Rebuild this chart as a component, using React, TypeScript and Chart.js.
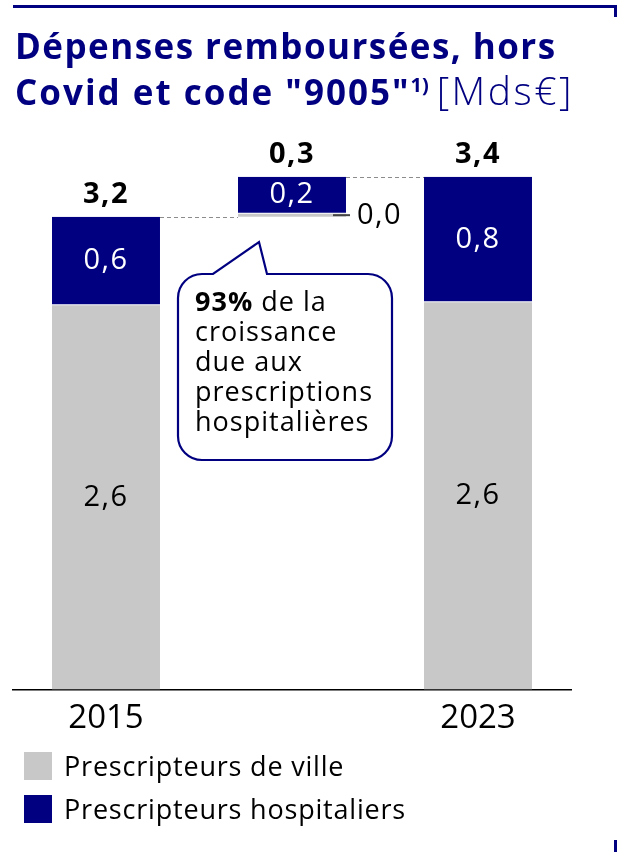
import React, { useEffect, useRef } from "react";
import { Chart, registerables } from "chart.js";
Chart.register(...registerables);

// ---- data ----
const categories = ["2015", "", "2023"];
const barKinds = ["total", "delta", "total"];
const seriesNames = ["Prescripteurs de ville", "Prescripteurs hospitaliers"];
const villeValues = [2.6, 0.02, 2.62];
const hospValues = [0.6, 0.25, 0.85];
const villeLabels = ["2,6", "0,0", "2,6"];
const hospLabels = ["0,6", "0,2", "0,8"];
const totalLabels = ["3,2", "0,3", "3,4"];
const calloutBold = "93%";
const calloutLines = [" de la", "croissance", "due aux", "prescriptions", "hospitalières"];

const NAVY = "#000080";
const GREY = "#c8c8c8";
const FONT = '"Open Sans", sans-serif';

// build floating ranges
const villeRanges: number[][] = [];
const hospRanges: number[][] = [];
let running = 0;
categories.forEach((_, i) => {
  const start = barKinds[i] === "total" ? 0 : running;
  const v1 = start + villeValues[i];
  const v2 = v1 + hospValues[i];
  villeRanges.push([start, v1]);
  hospRanges.push([v1, v2]);
  running = v2;
});

const labelPlugin = {
  id: "wfLabels",
  afterDatasetsDraw(chart: any) {
    const ctx = chart.ctx;
    const ys = chart.scales.y;
    const mv = chart.getDatasetMeta(0);
    const mh = chart.getDatasetMeta(1);
    ctx.save();
    // dashed connectors
    ctx.strokeStyle = "#8c8c8c";
    ctx.lineWidth = 1;
    ctx.setLineDash([4, 3]);
    for (let i = 0; i < categories.length - 1; i++) {
      const a = mh.data[i];
      const b = mh.data[i + 1];
      const py = Math.round(ys.getPixelForValue(hospRanges[i][1])) + 0.5;
      ctx.beginPath();
      ctx.moveTo(a.x + a.width / 2, py);
      ctx.lineTo(b.x - b.width / 2, py);
      ctx.stroke();
    }
    ctx.setLineDash([]);
    try { (ctx as any).letterSpacing = "1.5px"; } catch (e) {}
    for (let i = 0; i < categories.length; i++) {
      const bv = mv.data[i];
      const bh = mh.data[i];
      // hosp label
      ctx.fillStyle = "#ffffff";
      ctx.font = `400 29px ${FONT}`;
      ctx.textAlign = "center";
      ctx.textBaseline = "middle";
      ctx.fillText(hospLabels[i], bh.x, (bh.y + bh.base) / 2);
      // ville label
      ctx.fillStyle = "#000";
      if (barKinds[i] === "total") {
        ctx.fillText(villeLabels[i], bv.x, (bv.y + bv.base) / 2);
      } else {
        const cy = (bv.y + bv.base) / 2;
        const right = bv.x + bv.width / 2;
        ctx.strokeStyle = "#444";
        ctx.lineWidth = 2;
        ctx.beginPath();
        ctx.moveTo(right - 13, cy);
        ctx.lineTo(right + 4, cy);
        ctx.stroke();
        ctx.textAlign = "left";
        ctx.fillText(villeLabels[i], right + 11, cy + 1);
      }
      // total label
      ctx.font = `700 29px ${FONT}`;
      ctx.textAlign = "center";
      ctx.textBaseline = "alphabetic";
      ctx.fillText(totalLabels[i], bh.x, Math.min(bh.y, bh.base) - 14);
    }
    ctx.restore();
  },
};

function App() {
  const ref = useRef<HTMLCanvasElement | null>(null);
  useEffect(() => {
    document.body.style.margin = "0";
    const chart = new Chart(ref.current as HTMLCanvasElement, {
      type: "bar",
      data: {
        labels: categories,
        datasets: [
          {
            label: seriesNames[0],
            data: villeRanges as any,
            backgroundColor: GREY,
            borderWidth: 0,
            categoryPercentage: 1,
            barPercentage: 0.5806,
          },
          {
            label: seriesNames[1],
            data: hospRanges as any,
            backgroundColor: NAVY,
            borderColor: "#ffffff",
            borderWidth: { top: 0, left: 0, right: 0, bottom: 1 } as any,
            borderSkipped: false,
            categoryPercentage: 1,
            barPercentage: 0.5806,
          },
        ],
      },
      options: {
        animation: false,
        responsive: false,
        devicePixelRatio: 1,
        layout: { padding: { left: 13, right: 47, top: 128, bottom: 105 } },
        plugins: { legend: { display: false }, tooltip: { enabled: false } },
        scales: {
          x: {
            stacked: true,
            grid: { display: false, drawTicks: false },
            border: { display: true, color: "#000", width: 1.5 },
            ticks: { color: "#000", font: { family: FONT, size: 33 }, padding: 9 },
          },
          y: {
            stacked: false,
            display: false,
            min: 0,
            max: 3.8,
          },
        },
      },
      plugins: [labelPlugin],
    });
    return () => chart.destroy();
  }, []);

  const r = 24, L = 178, T = 274, R = 392, B = 460;
  const bubble = `M ${L + r} ${T} L 213 ${T} L 259 242 L 267 ${T} L ${R - r} ${T} A ${r} ${r} 0 0 1 ${R} ${T + r} L ${R} ${B - r} A ${r} ${r} 0 0 1 ${R - r} ${B} L ${L + r} ${B} A ${r} ${r} 0 0 1 ${L} ${B - r} L ${L} ${T + r} A ${r} ${r} 0 0 1 ${L + r} ${T} Z`;

  return (
    <div style={{ position: "absolute", left: 0, top: 0, width: 618, height: 852, background: "#fff", fontFamily: FONT, overflow: "hidden" }}>
      <canvas ref={ref} width={618} height={852} style={{ position: "absolute", left: 0, top: 0, width: 618, height: 852 }} />
      {/* frame */}
      <div style={{ position: "absolute", left: 13, top: 5, width: 604, height: 3, background: NAVY }} />
      <div style={{ position: "absolute", left: 614, top: 5, width: 3, height: 12, background: NAVY }} />
      <div style={{ position: "absolute", left: 614, top: 840, width: 3, height: 12, background: NAVY }} />
      {/* title */}
      <div style={{ position: "absolute", left: 15, top: 24, color: NAVY, fontSize: 35, fontWeight: 700, lineHeight: "44px", letterSpacing: 1.45, whiteSpace: "nowrap" }}>
        <div>Dépenses remboursées, hors</div>
        <div>
          <span style={{ letterSpacing: 2 }}>Covid et code "9005"</span>
          <span style={{ fontSize: 20, position: "relative", top: -13, letterSpacing: 0 }}>1)</span>
          <span style={{ fontWeight: 300, fontSize: 39, marginLeft: 8, letterSpacing: 2.5 }}>[Mds€]</span>
        </div>
      </div>
      {/* callout */}
      <svg width={618} height={852} style={{ position: "absolute", left: 0, top: 0 }}>
        <path d={bubble} fill="#fff" stroke={NAVY} strokeWidth={2.2} />
      </svg>
      <div style={{ position: "absolute", left: 195, top: 286, fontSize: 27, lineHeight: "30px", letterSpacing: 1, color: "#000", whiteSpace: "nowrap" }}>
        <div><b>{calloutBold}</b>{calloutLines[0]}</div>
        {calloutLines.slice(1).map((t) => (
          <div key={t}>{t}</div>
        ))}
      </div>
      {/* legend */}
      {seriesNames.map((n, i) => (
        <div key={n} style={{ position: "absolute", left: 24, top: 752 + i * 43, display: "flex", alignItems: "center", height: 28 }}>
          <div style={{ width: 28, height: 28, background: i === 0 ? GREY : NAVY }} />
          <div style={{ marginLeft: 12, fontSize: 27, lineHeight: "28px", letterSpacing: 0.8, color: "#000", whiteSpace: "nowrap" }}>{n}</div>
        </div>
      ))}
    </div>
  );
}

export default App;
